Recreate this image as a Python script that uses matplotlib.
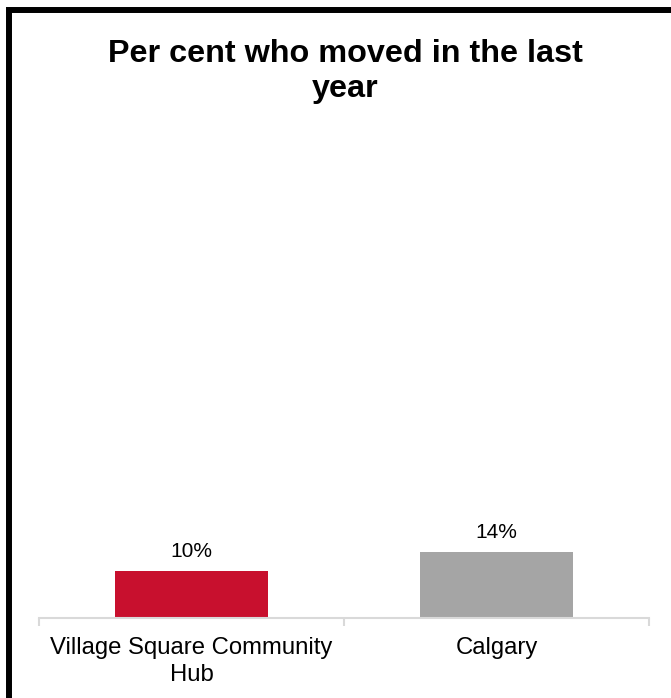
import matplotlib
matplotlib.use('Agg')
import matplotlib.pyplot as plt
from matplotlib.patches import Rectangle

plt.rcParams['font.family'] = ['Liberation Sans', 'DejaVu Sans']

# data
categories = ['Village Square Community\nHub', 'Calgary']
values = [10, 14]
labels = ['10%', '14%']
colors = ['#C8102E', '#A5A5A5']

W, H = 671, 698
fig = plt.figure(figsize=(W / 100, H / 100), dpi=100)

# black frame, cut off at right and bottom like the source
frame = Rectangle((9 / W, -0.2), 1.5, (H - 10) / H + 0.2, transform=fig.transFigure,
                  fill=False, edgecolor='black', linewidth=4.3, clip_on=False)
fig.add_artist(frame)

ax = fig.add_axes([39 / W, (H - 617.5) / H, 610 / W, 467 / H])
x = list(range(len(categories)))
ax.bar(x, values, width=0.5, color=colors)
ax.set_xlim(-0.5, 1.5)
ax.set_ylim(0, 100)

for xi, v, lab in zip(x, values, labels):
    ax.annotate(lab, (xi, v), xytext=(0, 10), textcoords='offset points',
                ha='center', va='baseline', fontsize=15)

for s in ['top', 'left', 'right']:
    ax.spines[s].set_visible(False)
ax.spines['bottom'].set_color('#d9d9d9')
ax.spines['bottom'].set_linewidth(1.5)
ax.set_yticks([])
ax.set_xticks(x)
ax.set_xticklabels(categories, fontsize=17.2, linespacing=1.3)
ax.tick_params(axis='x', which='major', length=0, pad=14)
ax.set_xticks([-0.5, 0.5, 1.5], minor=True)
ax.tick_params(axis='x', which='minor', length=5.8, width=1.5, color='#d9d9d9', direction='out')
ax.patch.set_alpha(0)

fig.text(345 / W, (H - 97.5) / H, 'Per cent who moved in the last\nyear', ha='center',
         va='baseline', fontsize=23.3, fontweight='bold', linespacing=1.23)

fig.savefig('out.png', dpi=100)
